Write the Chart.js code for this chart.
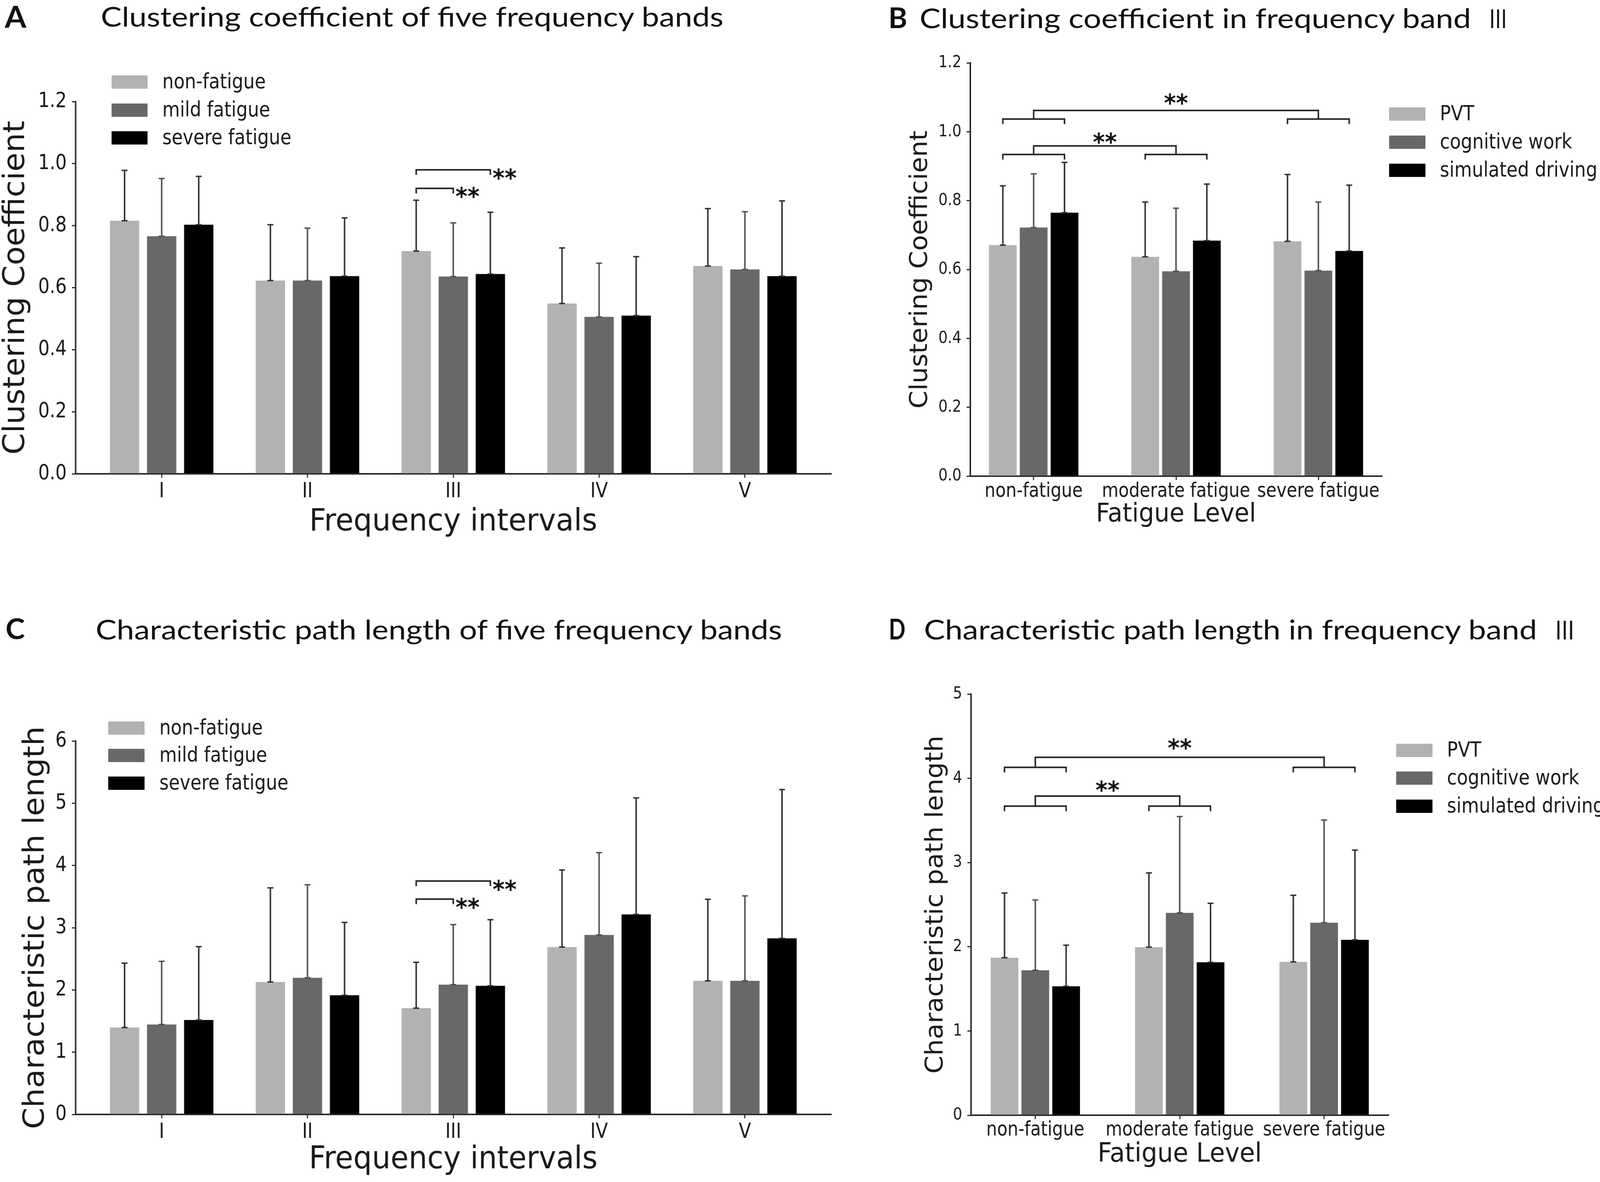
<!DOCTYPE html>
<html><head><meta charset="utf-8">
<script src="https://cdn.jsdelivr.net/npm/chart.js@4.4.1/dist/chart.umd.min.js"></script>
<style>
html,body{margin:0;padding:0;background:#fff;overflow:hidden;}
#page{position:absolute;left:0;top:0;width:4317px;height:3026px;transform-origin:0 0;background:#fff;}
canvas{position:absolute;}
#titles{position:absolute;left:0;top:0;}
</style></head><body>
<div id="page">
<svg id="titles" width="4317" height="3026">
 <g font-family="Lato, 'Open Sans', sans-serif" fill="#111">
  <text x="13" y="71" font-size="76" font-weight="700" textLength="58" lengthAdjust="spacingAndGlyphs">A</text>
  <text x="272" y="68" font-size="70" textLength="1680" lengthAdjust="spacingAndGlyphs">Clustering coefficient of five frequency bands</text>
  <text x="2397" y="72" font-size="72" font-weight="700" textLength="51" lengthAdjust="spacingAndGlyphs">B</text>
  <text x="2481" y="72" font-size="70" textLength="1488" lengthAdjust="spacingAndGlyphs">Clustering coefficient in frequency band</text>
  <text x="4015" y="72" font-size="66" font-family="'Noto Sans CJK SC'" textLength="54" lengthAdjust="spacingAndGlyphs">Ⅲ</text>
  <text x="15" y="1636" font-size="72" font-weight="700" textLength="52" lengthAdjust="spacingAndGlyphs">C</text>
  <text x="258" y="1637" font-size="70" textLength="1852" lengthAdjust="spacingAndGlyphs">Characteristic path length of five frequency bands</text>
  <text x="2398" y="1637" font-size="72" font-weight="700" textLength="45" lengthAdjust="spacingAndGlyphs">D</text>
  <text x="2493" y="1637" font-size="70" textLength="1654" lengthAdjust="spacingAndGlyphs">Characteristic path length in frequency band</text>
  <text x="4193" y="1637" font-size="66" font-family="'Noto Sans CJK SC'" textLength="58" lengthAdjust="spacingAndGlyphs">Ⅲ</text>
 </g>
</svg>
<canvas id="cA"></canvas>
<canvas id="cB"></canvas>
<canvas id="cC"></canvas>
<canvas id="cD"></canvas>
</div>
<script>
// ---------------- DATA ----------------
const bands = ['I', 'II', 'III', 'IV', 'V'];
const fatigueLevels = ['non-fatigue', 'moderate fatigue', 'severe fatigue'];
const fatigueSeriesNames = ['non-fatigue', 'mild fatigue', 'severe fatigue'];
const taskSeriesNames = ['PVT', 'cognitive work', 'simulated driving'];

const clusterTicks = [0, 0.2, 0.4, 0.6, 0.8, 1.0, 1.2];
const pathTicksBands = [0, 1, 2, 3, 4, 5, 6];
const pathTicksLevels = [0, 1, 2, 3, 4, 5];

// Panel A: clustering coefficient, five bands
const ccBandNon = [0.816, 0.623, 0.718, 0.549, 0.670];
const ccBandMild = [0.766, 0.623, 0.636, 0.506, 0.659];
const ccBandSevere = [0.803, 0.637, 0.644, 0.510, 0.637];
const ccBandNonSD = [0.162, 0.180, 0.164, 0.179, 0.185];
const ccBandMildSD = [0.186, 0.169, 0.173, 0.173, 0.186];
const ccBandSevereSD = [0.156, 0.188, 0.199, 0.190, 0.243];

// Panel B: clustering coefficient, band III, by fatigue level
const ccLevelPVT = [0.671, 0.637, 0.682];
const ccLevelCog = [0.722, 0.595, 0.597];
const ccLevelSim = [0.765, 0.684, 0.654];
const ccLevelPVTSD = [0.172, 0.159, 0.194];
const ccLevelCogSD = [0.156, 0.183, 0.199];
const ccLevelSimSD = [0.146, 0.164, 0.191];

// Panel C: characteristic path length, five bands
const plBandNon = [1.396, 2.128, 1.707, 2.689, 2.146];
const plBandMild = [1.445, 2.195, 2.085, 2.884, 2.146];
const plBandSevere = [1.518, 1.915, 2.067, 3.213, 2.829];
const plBandNonSD = [1.034, 1.512, 0.738, 1.238, 1.311];
const plBandMildSD = [1.015, 1.495, 0.965, 1.323, 1.366];
const plBandSevereSD = [1.177, 1.170, 1.061, 1.872, 2.391];

// Panel D: characteristic path length, band III, by fatigue level
const plLevelPVT = [1.870, 1.996, 1.820];
const plLevelCog = [1.721, 2.403, 2.285];
const plLevelSim = [1.531, 1.816, 2.082];
const plLevelPVTSD = [0.768, 0.881, 0.791];
const plLevelCogSD = [0.835, 1.143, 1.220];
const plLevelSimSD = [0.488, 0.700, 1.066];

// significance brackets
// [band, fromSeries, toSeries, level]
const ccBandBrackets = [[2, 0, 2, 0.98], [2, 0, 1, 0.92]];
const plBandBrackets = [[2, 0, 2, 3.75], [2, 0, 1, 3.46]];
// [groupA, groupB, subLevel, joinLevel, starLevel]
const ccLevelBrackets = [[0, 2, 1.037, 1.062, 1.098], [0, 1, 0.934, 0.959, 0.985]];
const plLevelBrackets = [[0, 2, 4.13, 4.25, 4.42], [0, 1, 3.67, 3.79, 3.92]];
const sigMark = '**';

// ---------------- PAGE FIT (fill the actual viewport) ----------------
(function () {
  const page = document.getElementById('page');
  const sx = window.innerWidth / 4317, sy = window.innerHeight / 3026;
  if (sx > 0 && sy > 0 && (Math.abs(sx - 1) > 0.002 || Math.abs(sy - 1) > 0.002)) {
    page.style.transform = 'scale(' + sx + ',' + sy + ')';
  }
})();

// ---------------- STYLE ----------------
const barColors = ['#b2b2b2', '#686868', '#000000'];
const errColors = ['#2e2e2e', '#505050', '#2e2e2e'];
const AX = '#2a2a2a';
const TXT = '#1a1a1a';
const DJ = "'DejaVu Sans', sans-serif";
const COND = "'DejaVu Sans Condensed', 'DejaVu Sans', sans-serif";
const DPR = Math.max(1, window.devicePixelRatio || 1);

const mctx = document.createElement('canvas').getContext('2d');
function fit(text, family, target, weight) {
  mctx.font = (weight || 'normal') + ' 100px ' + family;
  return 100 * target / mctx.measureText(text).width;
}

const szTickAC = fit('1.2', COND, 77);
const szTickBDy = fit('1.2', COND, 62);
const szTickBDx = fit('moderate fatigue', COND, 400);
const szLegAC = fit('severe fatigue', COND, 348);
const szLegBD = fit('simulated driving', COND, 425);

function buildPanel(spec) {
  const cv = document.getElementById(spec.id);
  cv.style.left = spec.cx + 'px'; cv.style.top = spec.cy + 'px';
  cv.style.width = spec.cw + 'px'; cv.style.height = spec.ch + 'px';
  cv.width = spec.cw; cv.height = spec.ch;

  const yW = spec.L - spec.cx;
  const xH = (spec.cy + spec.ch) - spec.B;
  const padTop = spec.T - spec.cy;
  const padRight = (spec.cx + spec.cw) - spec.R;

  const yTs = fit(spec.yTitle, DJ, spec.yTitleLen);
  const xTs = fit(spec.xTitle, DJ, spec.xTitleLen);
  const yTpad = spec.yTitleCX - spec.cx - yTs / 2;
  const xTpad = (spec.cy + spec.ch) - spec.xTitleCY - xTs / 2;
  const xTickPad = spec.xTickCY - spec.B - 10 - spec.xTickSize / 2;

  const datasets = spec.series.map((vals, k) => ({
    label: spec.names[k],
    data: vals.map((v, i) => ({x: i, y: v})),
    backgroundColor: barColors[k],
    borderWidth: 0,
    categoryPercentage: spec.catPct,
    barPercentage: spec.barPct
  }));

  const overlay = {
    id: 'overlay',
    afterDatasetsDraw(chart) {
      const ctx = chart.ctx, ys = chart.scales.y;
      ctx.save();
      // error bars
      spec.series.forEach((vals, k) => {
        const meta = chart.getDatasetMeta(k);
        meta.data.forEach((bar, i) => {
          const x = bar.x, y0 = bar.y;
          const top = ys.getPixelForValue(vals[i] + spec.errs[k][i]);
          ctx.strokeStyle = errColors[k];
          ctx.lineWidth = 4;
          ctx.beginPath();
          ctx.moveTo(x, y0); ctx.lineTo(x, top);
          ctx.stroke();
          ctx.lineWidth = 3.5;
          ctx.beginPath();
          ctx.moveTo(x - 8, top); ctx.lineTo(x + 8, top);
          ctx.moveTo(x - 8, y0); ctx.lineTo(x + 8, y0);
          ctx.stroke();
        });
      });
      // brackets
      ctx.strokeStyle = '#222';
      ctx.lineWidth = 4;
      ctx.fillStyle = '#111';
      ctx.font = 'bold 62px ' + DJ;
      ctx.textBaseline = 'alphabetic';
      if (spec.pairBrackets) {
        spec.pairBrackets.forEach(([g, a, b, lvl]) => {
          const xa = chart.getDatasetMeta(a).data[g].x;
          const xb = chart.getDatasetMeta(b).data[g].x;
          const y = ys.getPixelForValue(lvl);
          ctx.beginPath();
          ctx.moveTo(xa, y + 13); ctx.lineTo(xa, y); ctx.lineTo(xb, y); ctx.lineTo(xb, y + 13);
          ctx.stroke();
          ctx.textAlign = 'left';
          ctx.fillText(sigMark, xb + 6, y + 8 + 0.55 * 62);
        });
      }
      if (spec.groupBrackets) {
        spec.groupBrackets.forEach(([g1, g2, sub, join, star]) => {
          const ySub = ys.getPixelForValue(sub);
          const yJoin = ys.getPixelForValue(join);
          const yStar = ys.getPixelForValue(star);
          const centers = [g1, g2].map(g => {
            const x0 = chart.getDatasetMeta(0).data[g].x;
            const x2 = chart.getDatasetMeta(2).data[g].x;
            ctx.beginPath();
            ctx.moveTo(x0, ySub + 13); ctx.lineTo(x0, ySub); ctx.lineTo(x2, ySub); ctx.lineTo(x2, ySub + 13);
            ctx.stroke();
            return chart.getDatasetMeta(1).data[g].x;
          });
          ctx.beginPath();
          ctx.moveTo(centers[0], ySub); ctx.lineTo(centers[0], yJoin);
          ctx.lineTo(centers[1], yJoin); ctx.lineTo(centers[1], ySub);
          ctx.stroke();
          ctx.textAlign = 'center';
          ctx.fillText(sigMark, (centers[0] + centers[1]) / 2, yStar + 0.55 * 62);
        });
      }
      // legend
      const lg = spec.legend;
      chart.data.datasets.forEach((ds, k) => {
        const cy = lg.rows[k] - spec.cy;
        ctx.fillStyle = ds.backgroundColor;
        ctx.fillRect(lg.boxX - spec.cx, cy - 17, lg.boxW, 34);
        ctx.fillStyle = TXT;
        ctx.font = lg.size + 'px ' + COND;
        ctx.textAlign = 'left';
        ctx.textBaseline = 'middle';
        ctx.fillText(ds.label, lg.textX - spec.cx, cy + 2);
      });
      ctx.restore();
    }
  };

  return new Chart(cv, {
    type: 'bar',
    data: {datasets},
    options: {
      responsive: false,
      animation: false,
      devicePixelRatio: DPR,
      events: [],
      layout: {padding: {top: padTop, right: padRight, left: 0, bottom: 0}},
      plugins: {legend: {display: false}, tooltip: {enabled: false}},
      scales: {
        x: {
          type: 'linear', min: spec.xmin, max: spec.xmax, offset: false,
          grid: {display: true, drawOnChartArea: false, drawTicks: true, tickLength: 10, color: AX, lineWidth: 3, offset: false},
          border: {display: true, color: AX, width: 4},
          ticks: {autoSkip: false, maxRotation: 0, minRotation: 0, padding: xTickPad, color: TXT,
                  font: {family: COND, size: spec.xTickSize, lineHeight: 1},
                  callback: (v) => spec.cats[v] !== undefined ? spec.cats[v] : ''},
          afterBuildTicks: (s) => { s.ticks = spec.cats.map((c, i) => ({value: i})); },
          afterFit: (s) => { s.height = xH; },
          title: {display: true, text: spec.xTitle, color: TXT, font: {family: DJ, size: xTs, lineHeight: 1},
                  padding: {top: 0, bottom: xTpad}}
        },
        y: {
          type: 'linear', min: 0, max: spec.yTicks[spec.yTicks.length - 1],
          grid: {display: true, drawOnChartArea: false, drawTicks: true, tickLength: 10, color: AX, lineWidth: 3},
          border: {display: true, color: AX, width: 4},
          ticks: {padding: 14, color: TXT, font: {family: COND, size: spec.yTickSize, lineHeight: 1},
                  callback: (v) => v.toFixed(spec.yDec)},
          afterBuildTicks: (s) => { s.ticks = spec.yTicks.map(v => ({value: v})); },
          afterFit: (s) => { s.width = yW; },
          title: {display: true, text: spec.yTitle, color: TXT, font: {family: DJ, size: yTs, lineHeight: 1},
                  padding: {top: yTpad, bottom: 0}}
        }
      }
    },
    plugins: [overlay]
  });
}

buildPanel({
  id: 'cA', cx: 0, cy: 130, cw: 2300, ch: 1270,
  L: 204, R: 2242, T: 260, B: 1213,
  xmin: -0.59, xmax: 4.59, catPct: 0.763, barPct: 0.79,
  cats: bands, names: fatigueSeriesNames,
  series: [ccBandNon, ccBandMild, ccBandSevere],
  errs: [ccBandNonSD, ccBandMildSD, ccBandSevereSD],
  yTicks: clusterTicks, yDec: 1,
  yTitle: 'Clustering Coefficient', yTitleLen: 855, yTitleCX: 44,
  xTitle: 'Frequency intervals', xTitleLen: 777, xTitleCY: 1337,
  xTickSize: szTickAC, yTickSize: szTickAC, xTickCY: 1259,
  pairBrackets: ccBandBrackets,
  legend: {boxX: 301, boxW: 97, textX: 438, rows: [210, 282, 353], size: szLegAC}
});

buildPanel({
  id: 'cB', cx: 2380, cy: 100, cw: 1937, ch: 1300,
  L: 2618, R: 3728, T: 161, B: 1219,
  xmin: -0.445, xmax: 2.445, catPct: 0.65, barPct: 0.9,
  cats: fatigueLevels, names: taskSeriesNames,
  series: [ccLevelPVT, ccLevelCog, ccLevelSim],
  errs: [ccLevelPVTSD, ccLevelCogSD, ccLevelSimSD],
  yTicks: clusterTicks, yDec: 1,
  yTitle: 'Clustering Coefficient', yTitleLen: 712, yTitleCX: 2484,
  xTitle: 'Fatigue Level', xTitleLen: 432, xTitleCY: 1318,
  xTickSize: szTickBDx, yTickSize: szTickBDy, xTickCY: 1259,
  groupBrackets: ccLevelBrackets,
  legend: {boxX: 3748, boxW: 98, textX: 3885, rows: [292, 364, 436], size: szLegBD}
});

buildPanel({
  id: 'cC', cx: 0, cy: 1700, cw: 2300, ch: 1326,
  L: 204, R: 2242, T: 1897, B: 2853,
  xmin: -0.59, xmax: 4.59, catPct: 0.763, barPct: 0.79,
  cats: bands, names: fatigueSeriesNames,
  series: [plBandNon, plBandMild, plBandSevere],
  errs: [plBandNonSD, plBandMildSD, plBandSevereSD],
  yTicks: pathTicksBands, yDec: 0,
  yTitle: 'Characteristic path length', yTitleLen: 1032, yTitleCX: 97,
  xTitle: 'Frequency intervals', xTitleLen: 779, xTitleCY: 2970,
  xTickSize: szTickAC, yTickSize: szTickAC, xTickCY: 2899,
  pairBrackets: plBandBrackets,
  legend: {boxX: 292, boxW: 98, textX: 430, rows: [1864, 1934, 2005], size: szLegAC}
});

buildPanel({
  id: 'cD', cx: 2380, cy: 1700, cw: 1937, ch: 1326,
  L: 2620, R: 3746, T: 1777, B: 2855,
  xmin: -0.445, xmax: 2.445, catPct: 0.64, barPct: 0.9,
  cats: fatigueLevels, names: taskSeriesNames,
  series: [plLevelPVT, plLevelCog, plLevelSim],
  errs: [plLevelPVTSD, plLevelCogSD, plLevelSimSD],
  yTicks: pathTicksLevels, yDec: 0,
  yTitle: 'Characteristic path length', yTitleLen: 866, yTitleCX: 2526,
  xTitle: 'Fatigue Level', xTitleLen: 443, xTitleCY: 2957,
  xTickSize: szTickBDx, yTickSize: szTickBDy, xTickCY: 2894,
  groupBrackets: plLevelBrackets,
  legend: {boxX: 3767, boxW: 98, textX: 3904, rows: [1921, 1992, 2064], size: szLegBD}
});
</script>
</body></html>
